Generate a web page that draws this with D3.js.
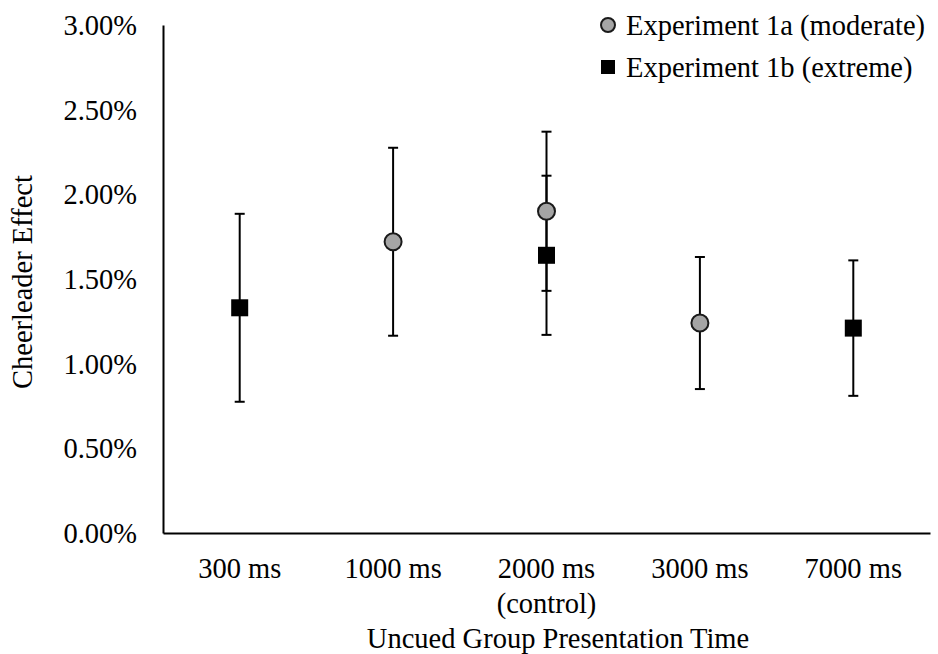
<!DOCTYPE html>
<html>
<head>
<meta charset="utf-8">
<script src="https://cdn.jsdelivr.net/npm/d3@7"></script>
<style>
  body { margin: 0; background: #fff; }
  text { font-family: "Liberation Serif", "Times New Roman", serif; fill: #000; }
</style>
</head>
<body>
<div id="chart"></div>
<script>
// categories on the x axis (second line is optional)
const categories = ["300 ms", "1000 ms", "2000 ms", "3000 ms", "7000 ms"];
const subLabels = ["", "", "(control)", "", ""];

// Experiment 1a (moderate): circles
const exp1aCats = ["1000 ms", "2000 ms", "3000 ms"];
const exp1aMean = [1.72, 1.90, 1.24];
const exp1aErr = [0.555, 0.47, 0.39];

// Experiment 1b (extreme): squares
const exp1bCats = ["300 ms", "2000 ms", "7000 ms"];
const exp1bMean = [1.33, 1.64, 1.21];
const exp1bErr = [0.555, 0.47, 0.40];

const yTicks = [0, 0.5, 1, 1.5, 2, 2.5, 3];

const width = 938, height = 654;
const margin = { top: 25, right: 8, bottom: 121, left: 163 };
const innerW = width - margin.left - margin.right;
const innerH = height - margin.top - margin.bottom;
const fs = "28.5px";

const svg = d3.select("#chart").append("svg")
    .attr("width", width)
    .attr("height", height);

const g = svg.append("g")
    .attr("transform", `translate(${margin.left}, ${margin.top})`);

const x = d3.scaleBand().domain(categories).range([0, innerW]);
const y = d3.scaleLinear().domain([0, 3]).range([innerH, 0]);

// y axis: line and labels, no ticks
const yAxis = g.append("g")
    .call(d3.axisLeft(y).tickValues(yTicks).tickSize(0).tickPadding(26)
        .tickFormat(d => d.toFixed(2) + "%"));
yAxis.select(".domain").attr("stroke", "#000").attr("stroke-width", 2);
yAxis.selectAll("text").style("font-size", fs).attr("dy", "0.33em");

// x axis
const xAxis = g.append("g")
    .attr("transform", `translate(0, ${innerH})`)
    .call(d3.axisBottom(x).tickSize(0).tickPadding(0));
xAxis.select(".domain").attr("stroke", "#000").attr("stroke-width", 2);
xAxis.selectAll(".tick text").remove();
xAxis.selectAll(".tick").each(function(d, i) {
    const t = d3.select(this);
    t.append("text")
        .attr("text-anchor", "middle")
        .attr("y", 45)
        .style("font-size", fs)
        .text(d);
    if (subLabels[i]) {
        t.append("text")
            .attr("text-anchor", "middle")
            .attr("y", 80)
            .style("font-size", fs)
            .text(subLabels[i]);
    }
});

// axis titles
svg.append("text")
    .attr("text-anchor", "middle")
    .attr("x", 558)
    .attr("y", 648)
    .style("font-size", fs)
    .text("Uncued Group Presentation Time");

svg.append("text")
    .attr("text-anchor", "middle")
    .attr("transform", `translate(32, 282) rotate(-90)`)
    .style("font-size", fs)
    .text("Cheerleader Effect");

// build series
const series1a = exp1aCats.map((c, i) => ({ cat: c, mean: exp1aMean[i], err: exp1aErr[i] }));
const series1b = exp1bCats.map((c, i) => ({ cat: c, mean: exp1bMean[i], err: exp1bErr[i] }));

function drawErrors(data) {
    const eb = g.append("g").selectAll("g").data(data).join("g")
        .attr("transform", d => `translate(${x(d.cat) + x.bandwidth() / 2}, 0)`);
    eb.append("line")
        .attr("y1", d => y(d.mean - d.err))
        .attr("y2", d => y(d.mean + d.err))
        .attr("stroke", "#000").attr("stroke-width", 2);
    eb.append("line")
        .attr("x1", -5).attr("x2", 5)
        .attr("y1", d => y(d.mean + d.err)).attr("y2", d => y(d.mean + d.err))
        .attr("stroke", "#000").attr("stroke-width", 2);
    eb.append("line")
        .attr("x1", -5).attr("x2", 5)
        .attr("y1", d => y(d.mean - d.err)).attr("y2", d => y(d.mean - d.err))
        .attr("stroke", "#000").attr("stroke-width", 2);
}

drawErrors(series1a);
drawErrors(series1b);

// circles (1a)
g.append("g").selectAll("circle").data(series1a).join("circle")
    .attr("cx", d => x(d.cat) + x.bandwidth() / 2)
    .attr("cy", d => y(d.mean))
    .attr("r", 8.5)
    .attr("fill", "#a5a5a5")
    .attr("stroke", "#1a1a1a")
    .attr("stroke-width", 2);

// squares (1b)
const sq = 17;
g.append("g").selectAll("rect").data(series1b).join("rect")
    .attr("x", d => x(d.cat) + x.bandwidth() / 2 - sq / 2)
    .attr("y", d => y(d.mean) - sq / 2)
    .attr("width", sq)
    .attr("height", sq)
    .attr("fill", "#000");

// legend
const legend = svg.append("g").attr("transform", "translate(608, 0)");
legend.append("circle")
    .attr("cx", 0).attr("cy", 25).attr("r", 7)
    .attr("fill", "#a5a5a5").attr("stroke", "#1a1a1a").attr("stroke-width", 2);
legend.append("text")
    .attr("x", 18).attr("y", 25).attr("dy", "0.35em")
    .style("font-size", fs)
    .text("Experiment 1a (moderate)");
legend.append("rect")
    .attr("x", -7).attr("y", 60).attr("width", 14).attr("height", 14)
    .attr("fill", "#000");
legend.append("text")
    .attr("x", 18).attr("y", 67).attr("dy", "0.35em")
    .style("font-size", fs)
    .text("Experiment 1b (extreme)");
</script>
</body>
</html>
